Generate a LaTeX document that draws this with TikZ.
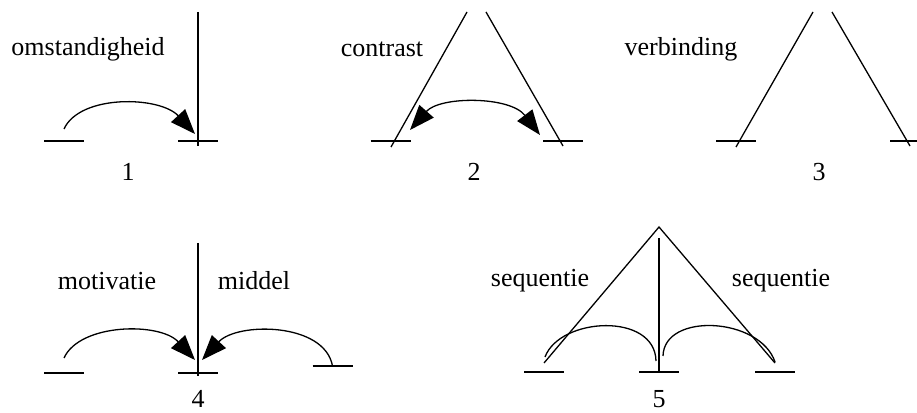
\documentclass[tikz,border=0pt]{standalone}
\usepackage{fontspec}
\setmainfont{Liberation Serif}
\usetikzlibrary{arrows.meta}

\begin{document}
\begin{tikzpicture}[x=1pt,y=1pt,line width=1.3pt,
  font=\fontsize{26}{30}\selectfont,
  tip/.style={-{Triangle[length=25pt,width=19pt]}},
  twotip/.style={{Triangle[length=25pt,width=19pt]}-{Triangle[length=25pt,width=19pt]}},
  num/.style={inner sep=0pt,anchor=base}]
 \useasboundingbox (0,0) rectangle (917,412);
 % bar centres
 \coordinate (s1a) at (64,271);   \coordinate (s1b) at (198,271);
 \coordinate (s2a) at (390.5,271); \coordinate (s2b) at (563,271);
 \coordinate (s3a) at (736,271);  \coordinate (s3b) at (910,271);
 \coordinate (s4a) at (64,39);    \coordinate (s4b) at (198,39);
 \coordinate (s4c) at (332.5,46);
 \coordinate (s5a) at (544,40);   \coordinate (s5b) at (659,40);
 \coordinate (s5c) at (775,40);
 \foreach \s in {s1a,s1b,s2a,s2b,s4a,s4b,s4c,s5a,s5b,s5c,s3a}
  {\draw (\s) ++(-20,0) -- ++(40,0);}
 \draw (s3b) ++(-20,0) -- (917,271);
 % 1
 \coordinate (t1) at (198,400);
 \draw (t1) -- ([yshift=-5pt]s1b);
 \draw[tip] ([yshift=12pt]s1a) .. controls +(16,35) and +(-35,38) .. ([shift={(-3,7)}]s1b);
 \node (omst) at (88,363) {omstandigheid};
 \node[num] (n1) at (128,231) {1};
 % 2
 \coordinate (t2a) at (467,400); \coordinate (t2b) at (486,400);
 \draw (t2a) -- (391,265);
 \draw (t2b) -- (563,266);
 \draw[twotip] ([shift={(19.5,11)}]s2a) .. controls +(30,34) and +(-30,39) .. ([shift={(-23,6)}]s2b);
 \node (contr) at (382,363) {contrast};
 \node[num] (n2) at (474,231) {2};
 % 3
 \coordinate (t3a) at (813,400); \coordinate (t3b) at (832,400);
 \draw (t3a) -- (736,265);
 \draw (t3b) -- (910,266);
 \node (verb) at (681,363) {verbinding};
 \node[num] (n3) at (819,231) {3};
 % 4
 \coordinate (t4) at (198,169);
 \draw (t4) -- ([yshift=-3pt]s4b);
 \draw[tip] ([yshift=15pt]s4a) .. controls +(16,35) and +(-35,38) .. ([shift={(-3,13)}]s4b);
 \draw[tip] (s4c) .. controls +(-8,44) and +(35,38) .. ([shift={(4,13)}]s4b);
 \node (motiv) at (107,131) {motivatie};
 \node (midd) at (254,131) {middel};
 \node[num] (n4) at (198,5) {4};
 % 5
 \coordinate (t5) at (659,185);
 \draw (544,49) -- (t5) -- (775,49);
 \draw (659,174) -- (s5b);
 \draw ([shift={(1,15)}]s5a) .. controls +(15,40) and +(-1,49) .. ([shift={(-3,11)}]s5b);
 \draw ([shift={(4,16)}]s5b) .. controls +(1,44) and +(-15,45) .. ([shift={(0,10)}]s5c);
 \node (seq1) at (540,131) {sequentie};
 \node (seq2) at (781,131) {sequentie};
 \node[num] (n5) at (659,5) {5};
\end{tikzpicture}
\end{document}
